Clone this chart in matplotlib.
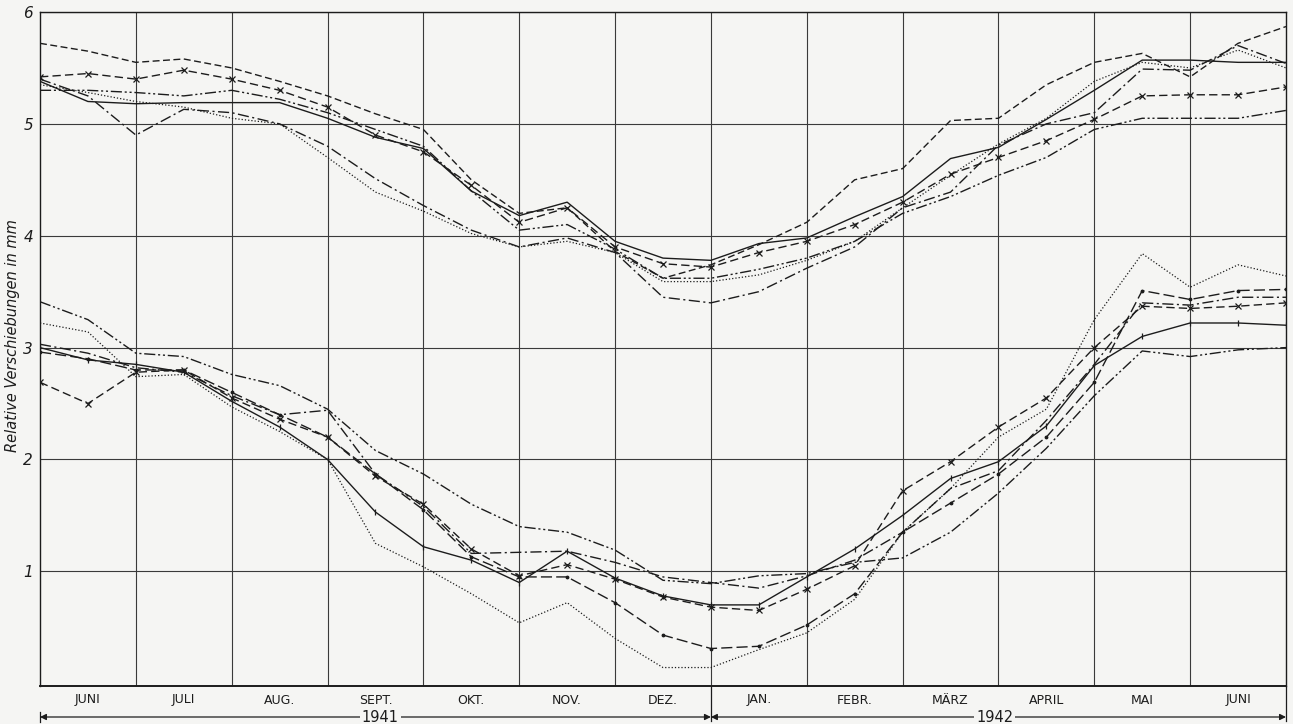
import numpy as np
import matplotlib
matplotlib.use("Agg")
import matplotlib.pyplot as plt
from matplotlib.transforms import blended_transform_factory

# ---------------- data ----------------
months = ["JUNI", "JULI", "AUG.", "SEPT.", "OKT.", "NOV.", "DEZ.",
          "JAN.", "FEBR.", "MÄRZ", "APRIL", "MAI", "JUNI"]
years = ["1941", "1942"]
y_ticks = [1, 2, 3, 4, 5, 6]
ylabel = "Relative Verschiebungen in mm"

# sampling positions in months from 1 June 1941 (half-month steps)
t = np.arange(0, 13.01, 0.5)

# upper group of gauges
up_dash = [5.72, 5.65, 5.55, 5.58, 5.5, 5.38, 5.25, 5.09, 4.95, 4.5, 4.2, 4.25, 3.86, 3.62,
           3.74, 3.92, 4.12, 4.5, 4.6, 5.03, 5.05, 5.35, 5.55, 5.63, 5.42, 5.72, 5.87]
up_solid = [5.38, 5.2, 5.18, 5.19, 5.19, 5.19, 5.05, 4.88, 4.78, 4.4, 4.18, 4.3, 3.95, 3.8,
            3.78, 3.93, 3.98, 4.17, 4.35, 4.69, 4.79, 5.04, 5.3, 5.57, 5.57, 5.55, 5.55]
up_dot = [5.35, 5.28, 5.2, 5.15, 5.05, 5.0, 4.7, 4.39, 4.22, 4.02, 3.9, 3.95, 3.85, 3.59,
          3.59, 3.65, 3.78, 3.95, 4.25, 4.54, 4.82, 5.05, 5.38, 5.55, 5.5, 5.66, 5.5]
up_dashdot = [5.4, 5.25, 4.9, 5.13, 5.1, 5.0, 4.8, 4.51, 4.27, 4.05, 3.9, 3.98, 3.85, 3.45,
              3.4, 3.5, 3.71, 3.9, 4.25, 4.39, 4.81, 5.0, 5.1, 5.49, 5.48, 5.7, 5.54]
up_cross = [5.42, 5.45, 5.4, 5.48, 5.4, 5.3, 5.15, 4.9, 4.75, 4.45, 4.12, 4.25, 3.9, 3.75,
            3.72, 3.85, 3.95, 4.1, 4.3, 4.55, 4.7, 4.85, 5.04, 5.25, 5.26, 5.26, 5.33]
up_dashdotdot = [5.3, 5.3, 5.28, 5.25, 5.3, 5.22, 5.1, 4.95, 4.8, 4.4, 4.05, 4.1, 3.88, 3.62,
                 3.62, 3.7, 3.8, 3.95, 4.2, 4.35, 4.54, 4.7, 4.95, 5.05, 5.05, 5.05, 5.12]

# lower group of gauges
lo_dashdotdot = [3.41, 3.25, 2.95, 2.92, 2.76, 2.66, 2.45, 2.08, 1.87, 1.6, 1.4, 1.35, 1.19, 0.92,
                 0.89, 0.96, 0.98, 1.08, 1.12, 1.35, 1.7, 2.1, 2.57, 2.97, 2.92, 2.98, 3.0]
lo_dashdot = [3.03, 2.95, 2.82, 2.78, 2.57, 2.4, 2.44, 1.87, 1.58, 1.16, 1.17, 1.18, 1.08, 0.95,
              0.9, 0.85, 0.96, 1.1, 1.35, 1.74, 1.9, 2.35, 2.85, 3.4, 3.38, 3.45, 3.45]
lo_cross = [2.69, 2.5, 2.78, 2.8, 2.55, 2.36, 2.2, 1.85, 1.6, 1.2, 0.96, 1.06, 0.93, 0.77,
            0.68, 0.65, 0.84, 1.05, 1.72, 1.98, 2.29, 2.55, 3.0, 3.37, 3.35, 3.37, 3.4]
lo_tick = [3.0, 2.89, 2.85, 2.78, 2.52, 2.29, 2.0, 1.53, 1.22, 1.1, 0.9, 1.18, 0.94, 0.78,
           0.7, 0.7, 0.95, 1.2, 1.5, 1.83, 1.98, 2.3, 2.84, 3.1, 3.22, 3.22, 3.2]
lo_dotmark = [2.96, 2.9, 2.8, 2.8, 2.6, 2.4, 2.2, 1.87, 1.55, 1.13, 0.95, 0.95, 0.72, 0.43,
              0.31, 0.33, 0.52, 0.8, 1.35, 1.61, 1.87, 2.2, 2.69, 3.51, 3.43, 3.51, 3.52]
lo_dot = [3.22, 3.14, 2.74, 2.76, 2.47, 2.25, 2.0, 1.25, 1.04, 0.8, 0.54, 0.72, 0.4, 0.14,
          0.14, 0.3, 0.45, 0.75, 1.35, 1.74, 2.2, 2.45, 3.25, 3.84, 3.54, 3.74, 3.64]

# ---------------- figure ----------------
bg = "#f5f5f3"
ink = "#1c1c1c"
W, H = 1293, 724
fig = plt.figure(figsize=(W / 100, H / 100), dpi=100, facecolor=bg)
L, R, T, B = 40, 1286, 12, 686
ax = fig.add_axes([L / W, (H - B) / H, (R - L) / W, (B - T) / H])
ax.set_facecolor(bg)
ax.set_xlim(0, len(months))
ax.set_ylim(-0.025, 6)

# grid
ax.set_xticks(np.arange(1, len(months)))
ax.set_yticks(y_ticks)
ax.tick_params(axis="x", length=0, labelbottom=False)
ax.tick_params(axis="y", length=0, pad=5)
ax.set_yticklabels([str(v) for v in y_ticks], fontstyle="italic", fontsize=11, color=ink)
ax.grid(True, color="#3a3a3a", lw=0.8)
ax.set_axisbelow(True)
for s in ax.spines.values():
    s.set_color(ink)
    s.set_linewidth(1.0)
ax.spines["bottom"].set_linewidth(1.4)

lw = 1.0
styles = [
    (up_dash, dict(ls=(0, (5, 2.5)))),
    (up_solid, dict(ls="-")),
    (up_dot, dict(ls=(0, (1, 1.6)), lw=0.9)),
    (up_dashdot, dict(ls=(0, (8, 2.5, 1.5, 2.5)))),
    (up_cross, dict(ls=(0, (6, 3)), marker="x", ms=4, mew=0.9)),
    (up_dashdotdot, dict(ls=(0, (8, 2, 1.5, 2, 1.5, 2)))),
    (lo_dashdotdot, dict(ls=(0, (8, 2, 1.5, 2, 1.5, 2)))),
    (lo_dashdot, dict(ls=(0, (8, 2.5, 1.5, 2.5)))),
    (lo_cross, dict(ls=(0, (6, 3)), marker="x", ms=4, mew=0.9)),
    (lo_tick, dict(ls="-", marker="|", ms=5, mew=0.9)),
    (lo_dotmark, dict(ls=(0, (8, 3)), marker=".", ms=3.5)),
    (lo_dot, dict(ls=(0, (1, 1.6)), lw=0.9)),
]
for vals, st in styles:
    kw = dict(color=ink, lw=lw)
    kw.update(st)
    ax.plot(t, vals, **kw)

# month labels band
trans = blended_transform_factory(ax.transData, ax.transAxes)
ax_h = B - T
for i, m in enumerate(months):
    ax.text(i + 0.5, -14 / ax_h, m, transform=trans, ha="center", va="center",
            fontsize=9, color=ink)

y_arrow = -(717 - B) / ax_h
# vertical separators extending into the band (year change and end)
for xv in (7, 13):
    ax.plot([xv, xv], [0, y_arrow - 4 / ax_h], transform=trans, color=ink, lw=0.9,
            clip_on=False)
ax.plot([0, 0], [y_arrow - 5 / ax_h, y_arrow + 5 / ax_h], transform=trans, color=ink,
        lw=0.9, clip_on=False)

# year arrows
spans = [(0, 7), (7, 13)]
centers = [3.55, 9.96]
for (a, b), c, yr in zip(spans, centers, years):
    ax.annotate("", xy=(a, y_arrow), xytext=(b, y_arrow), xycoords=trans, textcoords=trans,
                arrowprops=dict(arrowstyle="<|-|>", color=ink, lw=0.9, mutation_scale=9,
                                shrinkA=0, shrinkB=0), annotation_clip=False)
    ax.text(c, y_arrow, yr, transform=trans, ha="center", va="center", fontsize=10.5,
            color=ink, bbox=dict(facecolor=bg, edgecolor="none", pad=1.5))

fig.text(13 / W, 1 - 336 / H, ylabel, rotation=90, ha="center", va="center",
         fontstyle="italic", fontsize=10.5, color=ink)

fig.savefig("out.png", dpi=100, facecolor=bg)
